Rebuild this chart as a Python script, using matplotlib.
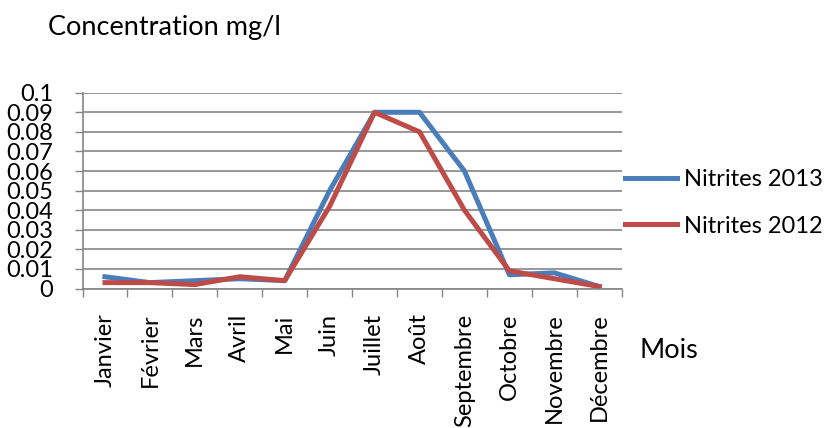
import numpy as np
import matplotlib
matplotlib.use("Agg")
from matplotlib import pyplot as plt

months = ["Janvier", "Février", "Mars", "Avril", "Mai", "Juin", "Juillet",
          "Août", "Septembre", "Octobre", "Novembre", "Décembre"]
nitrites_2013 = [0.006, 0.003, 0.004, 0.005, 0.004, 0.05, 0.09, 0.09, 0.06, 0.007, 0.008, 0.001]
nitrites_2012 = [0.003, 0.003, 0.002, 0.006, 0.004, 0.042, 0.09, 0.08, 0.04, 0.009, 0.005, 0.001]
y_ticks = [0, 0.01, 0.02, 0.03, 0.04, 0.05, 0.06, 0.07, 0.08, 0.09, 0.1]
y_tick_labels = ["0", "0.01", "0.02", "0.03", "0.04", "0.05", "0.06", "0.07", "0.08", "0.09", "0.1"]

BLUE = "#4a7ebb"
RED = "#be4b48"
GRID = "#868686"

plt.rcParams['font.family'] = ['Lato', 'DejaVu Sans']

fig = plt.figure(figsize=(8.24, 4.28), dpi=100)
ax = fig.add_axes([82.5 / 824, 1 - 288.5 / 428, (621.7 - 82.5) / 824, (288.5 - 92.7) / 428])

x = np.arange(len(months))
ax.plot(x, nitrites_2013, color=BLUE, lw=3.6, label="Nitrites 2013")
ax.plot(x, nitrites_2012, color=RED, lw=3.6, label="Nitrites 2012")

ax.set_xlim(-0.5, len(months) - 0.5)
ax.set_ylim(0, 0.1)

ax.set_yticks(y_ticks)
ax.set_yticklabels(y_tick_labels, fontsize=17)
ax.tick_params(axis='y', length=6, width=1, color=GRID, pad=15)
ax.yaxis.grid(True, color=GRID, lw=1.2)
ax.set_axisbelow(True)

# month names on the major ticks, tick marks between months on the minor ones
ax.set_xticks(x)
ax.set_xticklabels(months, rotation=90, fontsize=17, ha='center', va='top')
ax.tick_params(axis='x', which='major', length=0, pad=18)
ax.set_xticks(np.arange(len(months) + 1) - 0.5, minor=True)
ax.tick_params(axis='x', which='minor', length=5.5, width=1, color=GRID)

for side in ["top", "right"]:
    ax.spines[side].set_visible(False)
for side in ["left", "bottom"]:
    ax.spines[side].set_color(GRID)
    ax.spines[side].set_linewidth(1.2)

fig.legend(loc='center left', bbox_to_anchor=(625 / 824, 1 - 202.9 / 428),
           frameon=False, fontsize=17, handlelength=2.2, handletextpad=0.3,
           labelspacing=1.08, borderpad=0, borderaxespad=0)

fig.text(48 / 824, 1 - 27 / 428, "Concentration mg/l", fontsize=19.5, va='center', ha='left')
fig.text(639 / 824, 1 - 350 / 428, "Mois", fontsize=19.5, va='center', ha='left')

fig.savefig("out.png", dpi=100)
